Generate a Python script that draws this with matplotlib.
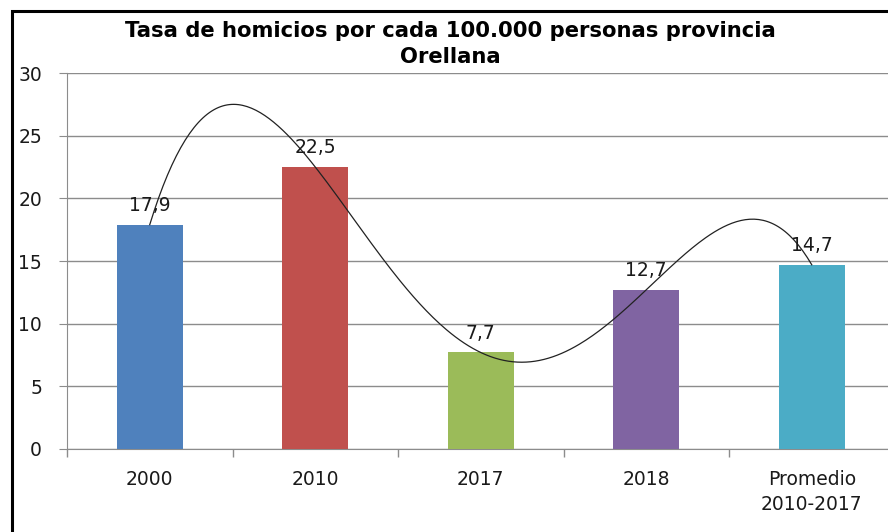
import matplotlib.pyplot as plt
import numpy as np
from matplotlib.patches import Rectangle

# Datos
categorias = ['2000', '2010', '2017', '2018', 'Promedio\n2010-2017']
tasas = [17.9, 22.5, 7.7, 12.7, 14.7]
etiquetas = ['17,9', '22,5', '7,7', '12,7', '14,7']
colores = ['#4F81BD', '#C0504D', '#9BBB59', '#8064A2', '#4BACC6']
titulo = 'Tasa de homicios por cada 100.000 personas provincia\nOrellana'

plt.rcParams['font.family'] = ['DejaVu Sans']

fig = plt.figure(figsize=(8.88, 5.32), dpi=100)
ax = fig.add_axes([67/888, 1 - 449/532, 827.5/888, 376/532])

x = np.arange(len(categorias))
ax.bar(x, tasas, 0.4, color=colores, zorder=3)

# Línea de tendencia polinómica (grado 4)
coef = np.polyfit(x, tasas, 4)
xs = np.linspace(0, 4, 300)
ax.plot(xs, np.polyval(coef, xs), color='#222222', lw=0.9, zorder=4)

for xi, v, t in zip(x, tasas, etiquetas):
    ax.annotate(t, (xi, v), xytext=(0, 7), textcoords='offset points',
                ha='center', va='bottom', fontsize=13.5, color='#1a1a1a', zorder=5)

ax.set_xlim(-0.5, 4.5)
ax.set_ylim(0, 30)
ax.set_yticks(range(0, 31, 5))
ax.set_xticks(x)
ax.set_xticklabels(categorias, fontsize=13.5, color='#1a1a1a', linespacing=1.4)
ax.set_xticks(np.arange(-0.5, 4.6, 1), minor=True)
ax.tick_params(axis='x', which='major', length=0, pad=15)
ax.tick_params(axis='x', which='minor', length=6, color='#8c8c8c', width=1)
ax.tick_params(axis='y', length=6, color='#8c8c8c', pad=12, labelsize=13.5, labelcolor='#1a1a1a')
ax.grid(axis='y', color='#8c8c8c', lw=1, zorder=0)
for s in ['top', 'right']:
    ax.spines[s].set_visible(False)
for s in ['left', 'bottom']:
    ax.spines[s].set_color('#8c8c8c')

fig.text(450/888, 1 - 44/532, titulo, ha='center', va='center',
         fontsize=15.2, fontweight='bold', linespacing=1.35)

# Marco exterior
fig.patches.append(Rectangle((12/888, -0.1), 1.0, 1.1 - 11/532,
                             transform=fig.transFigure, fill=False,
                             edgecolor='black', lw=2.2))

fig.savefig('out.png', dpi=100)
